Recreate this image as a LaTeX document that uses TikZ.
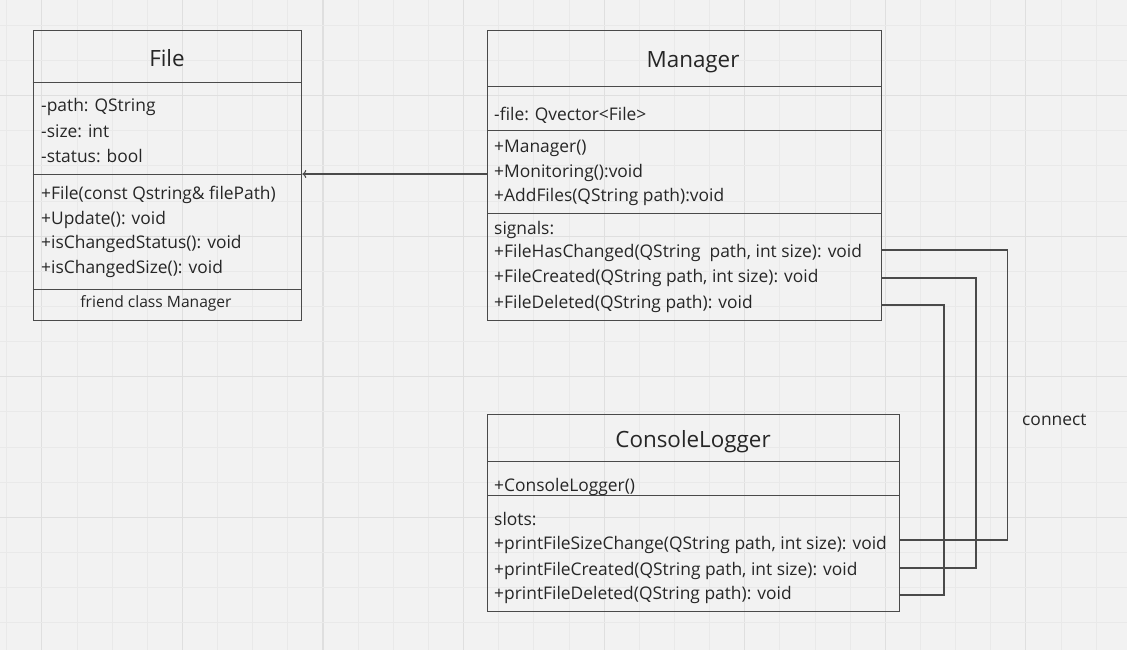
\documentclass[tikz,border=0pt]{standalone}
\usepackage{fontspec}
\setmainfont{Open Sans}
\usetikzlibrary{arrows.meta,calc}
\definecolor{bg}{HTML}{F2F2F2}
\definecolor{gridminor}{HTML}{E9E9E9}
\definecolor{gridmajor}{HTML}{DFDFDF}
\definecolor{ink}{HTML}{262626}
\definecolor{edge}{HTML}{4A4A4A}
\tikzset{
  classbox/.style={draw=edge, line width=1pt, inner sep=0pt, anchor=north west},
  sep/.style={draw=edge, line width=1pt},
  member/.style={anchor=mid west, inner sep=0pt, yshift=-3.5pt, text=ink, font=\fontsize{17.4}{20}\selectfont},
  title/.style={anchor=mid, inner sep=0pt, yshift=-4.5pt, text=ink, font=\fontsize{22.4}{26}\selectfont},
  note/.style={anchor=mid, inner sep=0pt, yshift=-3pt, text=ink, font=\fontsize{15.6}{18}\selectfont},
  wire/.style={draw=edge, line width=1.1pt},
}
\begin{document}
\begin{tikzpicture}[x=1pt,y=-1pt]
\useasboundingbox (0,0) rectangle (1127,650);
\fill[bg] (0,0) rectangle (1127,650);
% grid
\foreach \k in {0,...,32}{
  \pgfmathsetmacro{\xx}{6.7+35.143*\k}
  \pgfmathtruncatemacro{\mm}{mod(\k,4)}
  \ifnum\mm=1
    \draw[gridmajor, line width=1.2pt] (\xx,0) -- (\xx,650);
  \else
    \draw[gridminor, line width=0.9pt] (\xx,0) -- (\xx,650);
  \fi
}
\foreach \k in {0,...,18}{
  \pgfmathsetmacro{\yy}{25.3+35.143*\k}
  \pgfmathtruncatemacro{\mm}{mod(\k,4)}
  \ifnum\mm=2
    \draw[gridmajor, line width=1.2pt] (0,\yy) -- (1127,\yy);
  \else
    \draw[gridminor, line width=0.9pt] (0,\yy) -- (1127,\yy);
  \fi
}

% ---------- File ----------
\node[classbox, minimum width=268.6pt, minimum height=290pt] (file) at (32.7,30) {};
\draw[sep] (32.7,83) -- (301.3,83);
\draw[sep] (32.7,174) -- (301.3,174);
\draw[sep] (32.7,289) -- (301.3,289);
\node[title] (fileT) at (167,59) {File};
\node[member] (f1) at (41,105) {-path: QString};
\node[member] (f2) at (41,131) {-size: int};
\node[member] (f3) at (41,156) {-status: bool};
\node[member] (f4) at (41,193) {+File(const Qstring\& filePath)};
\node[member] (f5) at (41,218) {+Update(): void};
\node[member] (f6) at (41,242) {+isChangedStatus(): void};
\node[member] (f7) at (41,267) {+isChangedSize(): void};
\node[note] (f8) at (156,302) {friend class Manager};

% ---------- Manager ----------
\node[classbox, minimum width=394pt, minimum height=290pt] (mgr) at (487.3,30) {};
\draw[sep] (487.3,86.7) -- (881.3,86.7);
\draw[sep] (487.3,131) -- (881.3,131);
\draw[sep] (487.3,213.3) -- (881.3,213.3);
\node[title] (mgrT) at (693,60) {Manager};
\node[member] (m1) at (494,114) {-file: Qvector<File>};
\node[member] (m2) at (494,146.7) {+Manager()};
\node[member] (m3) at (494,171.7) {+Monitoring():void};
\node[member] (m4) at (494,195) {+AddFiles(QString path):void};
\node[member] (m5) at (494,228) {signals:};
\node[member] (m6) at (494,251.7) {+FileHasChanged(QString\ \ path, int size): void};
\node[member] (m7) at (494,276.7) {+FileCreated(QString path, int size): void};
\node[member] (m8) at (494,302.7) {+FileDeleted(QString path): void};

% ---------- ConsoleLogger ----------
\node[classbox, minimum width=411.4pt, minimum height=197pt] (cl) at (487.3,414) {};
\draw[sep] (487.3,461) -- (898.7,461);
\draw[sep] (487.3,495.7) -- (898.7,495.7);
\node[title] (clT) at (693,440) {ConsoleLogger};
\node[member] (c1) at (494,485) {+ConsoleLogger()};
\node[member] (c2) at (494,519) {slots:};
\node[member] (c3) at (494,543) {+printFileSizeChange(QString path, int size): void};
\node[member] (c4) at (494,569) {+printFileCreated(QString path, int size): void};
\node[member] (c5) at (494,593) {+printFileDeleted(QString path): void};

% ---------- connectors ----------
\coordinate (dep) at (487.3,174);
\draw[wire, -{To[length=4pt,width=8pt]}] (dep) -- (dep -| file.east);

\coordinate (s1) at (881.3,250);
\coordinate (s2) at (881.3,278);
\coordinate (s3) at (881.3,305);
\coordinate (r1) at (1007.7,540);
\coordinate (r2) at (976,568);
\coordinate (r3) at (944,595);
\draw[wire] (s1) -| (r1) -- (r1 -| cl.east);
\draw[wire] (s2) -| (r2) -- (r2 -| cl.east);
\draw[wire] (s3) -| (r3) -- (r3 -| cl.east);
\node[member] (conn) at (1022,419) {connect};
\end{tikzpicture}
\end{document}
